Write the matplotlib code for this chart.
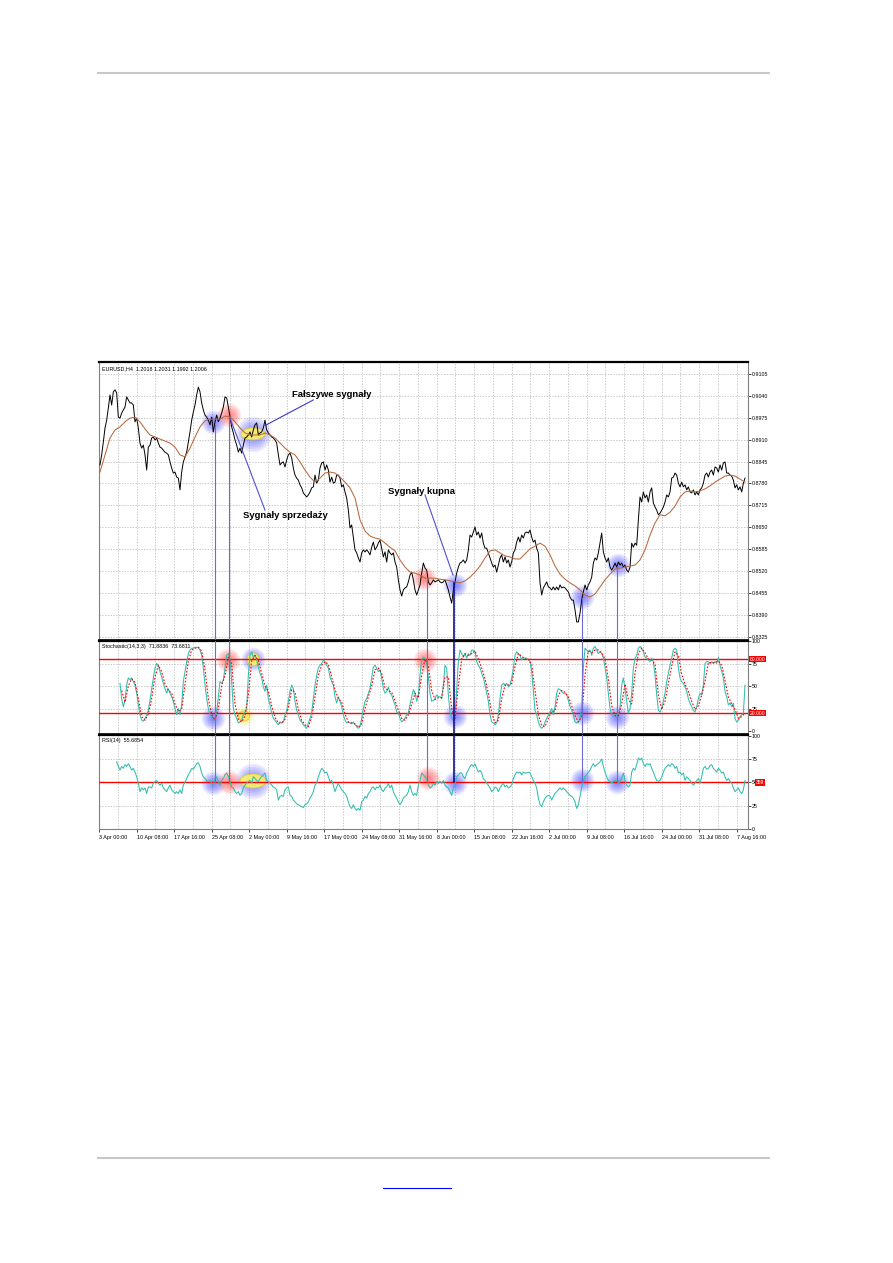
"""plot.py

EURUSD H4 chart with moving average, Stochastic(14,3,3) and RSI(14),
buy / sell / false signals marked on all three panels.
"""
import numpy as np
import matplotlib
matplotlib.use('Agg')
from matplotlib import pyplot as plt
from matplotlib.patches import Ellipse
from matplotlib.lines import Line2D

plt.rcParams['font.family'] = ['Liberation Sans', 'DejaVu Sans']


#
# Data (bar index of first sample, step between samples)
#

## Price (close)
price_start, price_step = 3, 1
price = [
    0.8835, 0.8865, 0.8903, 0.8945, 0.8968, 0.9004, 0.9043, 0.9013, 0.9052, 0.9058,
    0.9049, 0.8977, 0.8974, 0.8989, 0.8998, 0.9007, 0.9037, 0.9028, 0.9019, 0.9019,
    0.9013, 0.8963, 0.8974, 0.8945, 0.8900, 0.8885, 0.8894, 0.8865, 0.8820, 0.8888,
    0.8894, 0.8915, 0.8918, 0.8909, 0.8915, 0.8900, 0.8888, 0.8885, 0.8879, 0.8873,
    0.8870, 0.8865, 0.8844, 0.8826, 0.8811, 0.8814, 0.8799, 0.8796, 0.8761, 0.8814,
    0.8844, 0.8859, 0.8873, 0.8903, 0.8933, 0.8968, 0.8992, 0.9013, 0.9043, 0.9066,
    0.9052, 0.9019, 0.8998, 0.8983, 0.8977, 0.8968, 0.8954, 0.8977, 0.8933, 0.8963,
    0.8983, 0.8963, 0.8974, 0.8989, 0.9007, 0.9037, 0.9034, 0.9007, 0.8977, 0.8948,
    0.8930, 0.8909, 0.8894, 0.8873, 0.8885, 0.8870, 0.8894, 0.8915, 0.8918, 0.8924,
    0.8933, 0.8918, 0.8939, 0.8954, 0.8960, 0.8924, 0.8930, 0.8933, 0.8945, 0.8968,
    0.8939, 0.8930, 0.8924, 0.8918, 0.8915, 0.8909, 0.8900, 0.8865, 0.8835, 0.8841,
    0.8844, 0.8829, 0.8850, 0.8865, 0.8870, 0.8856, 0.8826, 0.8805, 0.8796, 0.8790,
    0.8776, 0.8767, 0.8752, 0.8746, 0.8740, 0.8746, 0.8755, 0.8767, 0.8770, 0.8805,
    0.8781, 0.8790, 0.8826, 0.8841, 0.8844, 0.8820, 0.8835, 0.8820, 0.8784, 0.8799,
    0.8781, 0.8784, 0.8805, 0.8805, 0.8796, 0.8770, 0.8776, 0.8755, 0.8737, 0.8701,
    0.8648, 0.8657, 0.8621, 0.8583, 0.8574, 0.8559, 0.8547, 0.8574, 0.8583, 0.8577,
    0.8583, 0.8577, 0.8568, 0.8591, 0.8606, 0.8583, 0.8591, 0.8603, 0.8612, 0.8588,
    0.8562, 0.8577, 0.8547, 0.8583, 0.8574, 0.8568, 0.8574, 0.8547, 0.8532, 0.8494,
    0.8464, 0.8446, 0.8464, 0.8470, 0.8473, 0.8488, 0.8508, 0.8517, 0.8494, 0.8464,
    0.8449, 0.8464, 0.8479, 0.8514, 0.8544, 0.8529, 0.8523, 0.8488, 0.8479, 0.8485,
    0.8494, 0.8488, 0.8491, 0.8494, 0.8488, 0.8485, 0.8488, 0.8494, 0.8479, 0.8464,
    0.8443, 0.8425, 0.8464, 0.8488, 0.8514, 0.8532, 0.8544, 0.8547, 0.8553, 0.8544,
    0.8553, 0.8583, 0.8627, 0.8621, 0.8636, 0.8651, 0.8627, 0.8636, 0.8618, 0.8633,
    0.8603, 0.8588, 0.8588, 0.8574, 0.8559, 0.8544, 0.8532, 0.8538, 0.8517, 0.8538,
    0.8559, 0.8568, 0.8547, 0.8562, 0.8544, 0.8553, 0.8532, 0.8547, 0.8574, 0.8583,
    0.8606, 0.8621, 0.8606, 0.8627, 0.8618, 0.8633, 0.8636, 0.8633, 0.8642, 0.8621,
    0.8606, 0.8612, 0.8588, 0.8574, 0.8485, 0.8449, 0.8470, 0.8479, 0.8488, 0.8473,
    0.8470, 0.8464, 0.8473, 0.8464, 0.8473, 0.8464, 0.8479, 0.8470, 0.8473, 0.8470,
    0.8464, 0.8458, 0.8443, 0.8434, 0.8434, 0.8405, 0.8369, 0.8369, 0.8396, 0.8434,
    0.8458, 0.8479, 0.8464, 0.8479, 0.8488, 0.8502, 0.8544, 0.8559, 0.8553, 0.8574,
    0.8603, 0.8633, 0.8577, 0.8559, 0.8547, 0.8559, 0.8532, 0.8523, 0.8532, 0.8544,
    0.8532, 0.8547, 0.8538, 0.8544, 0.8532, 0.8538, 0.8523, 0.8517, 0.8532, 0.8603,
    0.8591, 0.8603, 0.8597, 0.8672, 0.8740, 0.8725, 0.8755, 0.8737, 0.8746, 0.8725,
    0.8755, 0.8767, 0.8722, 0.8710, 0.8701, 0.8687, 0.8692, 0.8701, 0.8710, 0.8725,
    0.8746, 0.8740, 0.8755, 0.8796, 0.8799, 0.8811, 0.8805, 0.8781, 0.8770, 0.8784,
    0.8770, 0.8776, 0.8761, 0.8770, 0.8755, 0.8752, 0.8761, 0.8746, 0.8755, 0.8746,
    0.8761, 0.8767, 0.8781, 0.8805, 0.8811, 0.8799, 0.8814, 0.8820, 0.8805, 0.8829,
    0.8826, 0.8814, 0.8835, 0.8820, 0.8841, 0.8844, 0.8811, 0.8811, 0.8805, 0.8802,
    0.8790, 0.8767, 0.8776, 0.8761, 0.8770, 0.8755, 0.8781, 0.8796]

## Moving average
ma_start, ma_step = 3, 3
ma = [
    0.8814, 0.8865, 0.8915, 0.8939, 0.8948, 0.8963, 0.8974, 0.8977, 0.8963, 0.8942,
    0.8924, 0.8918, 0.8912, 0.8906, 0.8900, 0.8888, 0.8865, 0.8859, 0.8885, 0.8918,
    0.8948, 0.8966, 0.8971, 0.8971, 0.8971, 0.8980, 0.8977, 0.8963, 0.8945, 0.8930,
    0.8924, 0.8924, 0.8924, 0.8930, 0.8924, 0.8915, 0.8900, 0.8885, 0.8873, 0.8865,
    0.8844, 0.8820, 0.8799, 0.8784, 0.8796, 0.8811, 0.8814, 0.8811, 0.8799, 0.8784,
    0.8767, 0.8737, 0.8672, 0.8639, 0.8624, 0.8618, 0.8615, 0.8603, 0.8591, 0.8580,
    0.8553, 0.8532, 0.8517, 0.8514, 0.8508, 0.8499, 0.8499, 0.8499, 0.8496, 0.8494,
    0.8491, 0.8488, 0.8485, 0.8491, 0.8502, 0.8517, 0.8535, 0.8559, 0.8580, 0.8583,
    0.8574, 0.8565, 0.8562, 0.8556, 0.8556, 0.8571, 0.8586, 0.8594, 0.8603, 0.8594,
    0.8568, 0.8535, 0.8511, 0.8496, 0.8485, 0.8476, 0.8464, 0.8449, 0.8443, 0.8452,
    0.8473, 0.8494, 0.8511, 0.8526, 0.8529, 0.8532, 0.8535, 0.8538, 0.8553, 0.8583,
    0.8627, 0.8663, 0.8687, 0.8684, 0.8695, 0.8713, 0.8740, 0.8755, 0.8758, 0.8755,
    0.8758, 0.8764, 0.8773, 0.8784, 0.8793, 0.8802, 0.8805, 0.8802, 0.8793, 0.8784]

## Stochastic main line
stoch_start, stoch_step = 15, 1
stoch_main = [
    53, 36, 27, 34, 51, 59, 57, 59, 55, 51, 42, 29, 18, 12, 11, 14, 18, 23, 34, 47,
    59, 70, 75, 73, 66, 60, 53, 47, 42, 47, 42, 38, 33, 25, 18, 25, 18, 29, 55, 66,
    77, 86, 90, 92, 92, 93, 93, 93, 90, 84, 70, 51, 36, 25, 18, 14, 12, 12, 21, 38,
    55, 53, 57, 70, 84, 86, 81, 55, 25, 18, 14, 9, 10, 12, 18, 21, 25, 62, 84, 88,
    82, 84, 79, 71, 64, 59, 49, 44, 51, 36, 29, 20, 14, 12, 9, 7, 10, 9, 10, 18,
    23, 33, 44, 51, 47, 33, 23, 18, 12, 10, 7, 5, 3, 9, 14, 21, 36, 51, 62, 70,
    73, 75, 79, 77, 73, 70, 60, 55, 51, 38, 31, 38, 33, 27, 18, 12, 9, 10, 9, 8,
    10, 7, 5, 3, 5, 14, 25, 33, 36, 42, 47, 59, 71, 73, 70, 66, 68, 59, 47, 42,
    44, 49, 42, 40, 34, 29, 21, 20, 14, 10, 12, 14, 18, 20, 29, 38, 46, 42, 33, 40,
    62, 79, 82, 80,
    77, 59, 42, 33, 34, 36, 40, 38, 38, 36, 51, 73, 70, 40, 21, 14, 12, 16, 47, 77,
    90, 86, 82, 86, 81, 86, 84, 90, 90, 88, 77, 73, 70, 64, 59, 51, 42, 33, 18, 10,
    9, 7, 9, 18, 36, 51, 53, 51, 53, 49, 51, 59, 70, 84, 88, 86, 84, 79, 81, 81,
    81, 79, 77, 66, 44, 23, 18, 10, 5, 3, 5, 10, 14, 18, 21, 25, 18, 27, 42, 47,
    46, 44, 42, 42, 40, 34, 27, 23, 18, 10, 9, 10, 14, 25, 70, 92, 90, 88, 90, 84,
    92, 94, 90, 86, 88, 86, 81, 71, 59, 42, 25, 18, 16, 18, 18, 16, 27, 51, 59, 47,
    33, 20, 25, 42, 70, 81, 84, 92, 94, 92, 88, 82, 81, 79, 77, 81, 77, 62, 40, 23,
    21, 25, 33, 42, 55, 64, 73, 81, 90, 92, 90, 70, 59, 55, 53, 49, 44, 36, 31, 27,
    23, 21, 27, 36, 42, 40, 51, 75, 77, 77, 75, 77, 75, 77, 75, 82, 73, 66, 59, 44,
    38, 29, 31, 27, 31, 14, 10, 12, 16, 18, 20, 51]

## Stochastic signal line
signal_start, signal_step = 16, 2
stoch_signal = [
    45, 32, 50, 58, 54, 36, 16, 12, 19, 36, 60, 73, 66, 52, 45, 42, 30, 22, 24, 52,
    78, 90, 92, 93, 89, 68, 36, 18, 12, 25, 50, 62, 82, 75, 30, 13, 10, 17, 40, 78,
    84, 78, 64, 50, 44, 28, 15, 9, 9, 13, 26, 46, 43, 24, 12, 7, 5, 15, 38, 62,
    73, 77, 74, 60, 46, 36, 32, 19, 10, 9, 8, 4, 8, 25, 38, 50, 68, 70, 64, 48,
    45, 43, 34, 23, 14, 12, 18, 30, 42, 37, 62, 80,
    72, 45, 35, 37, 37, 60, 60, 25, 14, 50, 80, 86, 84, 86, 89, 80, 70, 58, 42, 20,
    9, 12, 36, 51, 51, 53, 72, 86, 83, 80, 80, 74, 45, 18, 6, 5, 14, 22, 22, 40,
    45, 43, 38, 28, 17, 10, 16, 62, 89, 87, 90, 90, 87, 80, 58, 28, 17, 17, 30, 52,
    35, 30, 64, 86, 92, 87, 80, 79, 74, 40, 24, 33, 53, 72, 88, 84, 63, 52, 44, 33,
    24, 28, 40, 55, 76, 76, 76, 78, 73, 56, 38, 30, 24, 14, 16, 20]

## RSI(14)
rsi_start, rsi_step = 13, 1
rsi = [
    72, 67, 63, 67, 65, 69, 67, 70, 67, 63, 65, 61, 56, 49, 40, 44, 42, 44, 38, 45,
    45, 44, 49, 51, 52, 49, 47, 49, 44, 42, 40, 44, 47, 42, 40, 38, 40, 38, 42, 38,
    47, 50, 54, 58, 61, 65, 64, 67, 70, 71, 67, 60, 56, 54, 52, 51, 52, 49, 47, 54,
    56, 51, 47, 52, 54, 58, 60, 56, 51, 45, 44, 40, 38, 40, 36, 38, 44, 47, 49, 51,
    52, 49, 56, 54, 52, 51, 54, 56, 58, 60, 52, 51, 49, 47, 45, 44, 42, 31, 35, 36,
    35, 42, 44, 45, 36, 35, 31, 29, 27, 26, 25, 24, 23, 26, 27, 29, 33, 36, 40, 47,
    49, 56, 61, 65, 63, 60, 61, 56, 51, 52, 47, 40, 45, 49, 45, 42, 40, 38, 35, 29,
    24, 22, 26, 22, 20, 22, 20, 29, 31, 35, 33, 38, 40, 44, 45, 42, 45, 44, 47, 42,
    40, 44, 45, 49, 44, 47, 40, 36, 33, 29, 26, 29, 33, 35, 36, 40, 47, 40, 36, 38,
    36, 47, 52, 60, 58, 56,
    54, 47, 44, 45, 49, 47, 51, 49, 51, 49, 52, 47, 45, 44, 40, 36, 44, 47, 56, 58,
    60, 60, 56, 54, 60, 63, 67, 69, 67, 70, 65, 61, 63, 60, 54, 52, 49, 47, 44, 40,
    42, 45, 44, 40, 44, 47, 49, 45, 47, 44, 45, 47, 54, 58, 61, 60, 61, 58, 61, 60,
    60, 61, 60, 56, 52, 49, 44, 33, 26, 24, 29, 33, 35, 36, 35, 31, 35, 38, 40, 42,
    44, 42, 44, 42, 40, 38, 36, 35, 33, 29, 22, 26, 35, 44, 52, 56, 58, 61, 63, 67,
    70, 67, 69, 70, 72, 75, 67, 61, 56, 52, 51, 49, 51, 52, 52, 49, 51, 54, 60, 52,
    47, 45, 47, 61, 65, 63, 69, 76, 74, 76, 70, 67, 70, 69, 70, 65, 61, 56, 52, 51,
    52, 56, 61, 65, 67, 69, 67, 70, 69, 65, 67, 60, 61, 58, 60, 52, 56, 54, 52, 49,
    47, 49, 52, 54, 49, 56, 65, 67, 64, 65, 68, 69, 65, 63, 61, 65, 63, 60, 61, 56,
    52, 54, 51, 49, 44, 40, 42, 44, 40, 38, 42, 52]

## Axis labels
date_labels = ['3 Apr 00:00', '10 Apr 08:00', '17 Apr 16:00', '25 Apr 08:00',
               '2 May 00:00', '9 May 16:00', '17 May 00:00', '24 May 08:00',
               '31 May 16:00', '8 Jun 00:00', '15 Jun 08:00', '22 Jun 16:00',
               '2 Jul 00:00', '9 Jul 08:00', '16 Jul 16:00', '24 Jul 00:00',
               '31 Jul 08:00', '7 Aug 16:00']
date_bars = 2.4 + 22.5*np.arange(len(date_labels))
price_ticks = [0.9105, 0.9040, 0.8975, 0.8910, 0.8845, 0.8780, 0.8715,
               0.8650, 0.8585, 0.8520, 0.8455, 0.8390, 0.8325]

## Signals: bar, price where the vertical marker starts
signal_bars = [72, 80.4, 199, 215.6, 292.4, 313.4]
signal_price = [0.8954, 0.8974, 0.8499, 0.8485, 0.8440, 0.8532]

## Highlighted spots (bar, value, kind)
main_spots = [(70.8, 0.8963, 'b'), (80.4, 0.8983, 'r'), (94.8, 0.8927, 'B'),
              (197.4, 0.8500, 'r'), (216, 0.8479, 'b'), (292.2, 0.8443, 'b'),
              (313.8, 0.8538, 'b')]
stoch_spots = [(70.8, 14.4, 'b'), (79.8, 78.9, 'r'), (94.8, 79.5, 'b'),
               (89.4, 16.7, 'y'), (198, 78.9, 'r'), (216, 16.7, 'b'),
               (292.2, 20, 'b'), (313.2, 15.6, 'b')]
rsi_spots = [(70.8, 49, 'b'), (80.4, 50, 'r'), (94.8, 51.4, 'B'),
             (199.8, 54.6, 'r'), (216, 49, 'b'), (292.2, 52.5, 'b'),
             (313.2, 50.3, 'b')]



colours = {'price': '#000000',
           'ma': '#b8683c',
           'stoch': '#2fbfae',
           'signal': '#ff0000',
           'rsi': '#2fbfae',
           'grid': '#b4b4b4',
           'axis': '#808080'}

W, H = 893., 1263.
XLIM = (2.4, 391.6)


def xs(start, step, vals):
    return start + step*np.arange(len(vals))


def panel(top, bottom):
    ax = fig.add_axes([99/W, 1 - bottom/H, (747.7 - 99)/W, (bottom - top)/H])
    ax.set_xlim(*XLIM)
    for s in ['left', 'right', 'bottom']:
        ax.spines[s].set_color(colours['axis'])
        ax.spines[s].set_linewidth(0.8)
    ax.spines['top'].set_color('black')
    ax.spines['top'].set_linewidth(1.6)
    ax.yaxis.tick_right()
    ax.tick_params(axis='y', labelsize=3.8, length=2, width=0.5, pad=1,
                   colors='black')
    ax.tick_params(axis='x', length=0)
    ax.set_xticklabels([])
    for m in range(1, 35):
        ax.axvline(2.4 + 11.25*m, color=colours['grid'], lw=0.5,
                   ls=(0, (2, 2)), zorder=0)
    return ax


def glow(ax, x, y, colour, radius):
    for r in np.linspace(radius, radius*0.15, 10):
        ax.scatter([x], [y], s=(2*r*0.72)**2, color=colour, alpha=0.075,
                   lw=0, zorder=2)


def oval(ax, x, y, w_px, h_px):
    bb = ax.get_window_extent()
    x0, x1 = ax.get_xlim()
    y0, y1 = ax.get_ylim()
    e = Ellipse((x, y), w_px*(x1 - x0)/bb.width, h_px*(y1 - y0)/bb.height,
                fc='#f6ef70', ec='#d9cb36', lw=0.6, alpha=0.95, zorder=2.5)
    ax.add_artist(e)


def spots(ax, marks):
    for x, y, kind in marks:
        if kind == 'r':
            glow(ax, x, y, '#ff2a2a', 12)
        elif kind == 'b':
            glow(ax, x, y, '#2a2aff', 12)
        elif kind == 'B':
            glow(ax, x, y, '#2a2aff', 18)
        else:
            glow(ax, x, y, '#f0e020', 10)


def level_box(ax, y, text, x=1.003):
    ax.text(x, y, text, transform=ax.get_yaxis_transform(), fontsize=3.6,
            color='white', va='center', ha='left', zorder=10,
            bbox=dict(boxstyle='square,pad=0.15', fc='#ff0000', ec='none'))



#
# Plot
#
fig = plt.figure(figsize=(W/100, H/100), dpi=100)

## Page rules
fig.add_artist(Line2D([98/W, 769/W], [1 - 73/H]*2, color='#c8c8c8', lw=1.5))
fig.add_artist(Line2D([98/W, 769/W], [1 - 1158/H]*2, color='#c8c8c8', lw=1.5))
fig.add_artist(Line2D([383/W, 451/W], [1 - 1188/H]*2, color='#0000ff', lw=0.8))

## Price panel
ax = panel(362, 640)
ax.set_ylim(0.83155, 0.91406)
ax.spines['bottom'].set_color('black')
ax.spines['bottom'].set_linewidth(1.2)
ax.set_yticks(price_ticks)
ax.set_yticklabels(['%.4f' % p for p in price_ticks])
for p in price_ticks:
    ax.axhline(p, color=colours['grid'], lw=0.5, ls=(0, (2, 2)), zorder=0)
ax.plot(xs(price_start, price_step, price), price, '-', color=colours['price'],
        lw=0.7, zorder=3)
ax.plot(xs(ma_start, ma_step, ma), ma, '-', color=colours['ma'], lw=0.75,
        zorder=4)
ax.text(0.004, 0.985, 'EURUSD,H4  1.2018 1.2031 1.1992 1.2006', fontsize=3.9,
        transform=ax.transAxes, va='top', ha='left')
oval(ax, 94.8, 0.8927, 24, 12)
spots(ax, main_spots)
for b, p in zip(signal_bars, signal_price):
    c, lw = ('#10108c', 1.2) if b == 215.6 else ('#6c6cd0', 0.8)
    ax.plot([b, b], [0.83155, p], color=c, lw=lw, zorder=5)

## Annotations
ax.text(118.2, 0.9043, 'Fałszywe sygnały', fontsize=6.8, fontweight='bold',
        va='center', ha='left', zorder=8)
ax.plot([131, 102], [0.9028, 0.8952], color='#3a3ac8', lw=0.8, zorder=7)
ax.text(88.8, 0.8684, 'Sygnały sprzedaży', fontsize=6.8, fontweight='bold',
        va='center', ha='left', zorder=8)
ax.plot([81, 102], [0.8974, 0.8701], color='#5050d8', lw=0.8, zorder=7)
ax.text(175.8, 0.8756, 'Sygnały kupna', fontsize=6.8, fontweight='bold',
        va='center', ha='left', zorder=8)
ax.plot([198, 214.8], [0.8746, 0.8508], color='#5050d0', lw=0.8, zorder=7)

## Stochastic panel
ax = panel(641, 734)
ax.set_ylim(-3.3, 100)
ax.spines['bottom'].set_color('black')
ax.spines['bottom'].set_linewidth(1.2)
ax.set_yticks([0, 25, 50, 75, 100])
ax.set_yticklabels(['0', '25', '50', '75', '100'])
for v in [25, 50, 75]:
    ax.axhline(v, color=colours['grid'], lw=0.5, ls=(0, (2, 2)), zorder=0)
for v in [20, 80]:
    ax.axhline(v, color='#ff0000', lw=1.0, zorder=2.7)
ax.plot(xs(stoch_start, stoch_step, stoch_main), stoch_main, '-',
        color=colours['stoch'], lw=0.75, zorder=3)
ax.plot(xs(signal_start, signal_step, stoch_signal), stoch_signal,
        color=colours['signal'], lw=0.8, ls=(0, (1.5, 1.5)), zorder=4)
ax.text(0.004, 0.97, 'Stochastic(14,3,3)  71.8836  73.6811', fontsize=3.9,
        transform=ax.transAxes, va='top', ha='left')
oval(ax, 94.8, 79.5, 12, 13)
oval(ax, 89.4, 16.7, 11, 10)
spots(ax, stoch_spots)
for b in signal_bars:
    c, lw = ('#10108c', 1.2) if b == 215.6 else ('#6c6cd0', 0.8)
    ax.axvline(b, color=c, lw=lw, zorder=5)
level_box(ax, 80, '80.000')
level_box(ax, 20, '20.000')

## RSI panel
ax = panel(735, 829)
ax.set_ylim(0, 100.7)
ax.set_yticks([0, 25, 50, 75, 100])
ax.set_yticklabels(['0', '25', '50', '75', '100'])
for v in [25, 75]:
    ax.axhline(v, color=colours['grid'], lw=0.5, ls=(0, (2, 2)), zorder=0)
ax.axhline(50, color='#ff0000', lw=1.0, zorder=2.7)
ax.plot(xs(rsi_start, rsi_step, rsi), rsi, '-', color=colours['rsi'], lw=0.75,
        zorder=3)
ax.text(0.004, 0.97, 'RSI(14)  55.6854', fontsize=3.9,
        transform=ax.transAxes, va='top', ha='left')
oval(ax, 94.8, 51.4, 26, 14)
spots(ax, rsi_spots)
for b in signal_bars:
    c, lw = ('#10108c', 1.2) if b == 215.6 else ('#6c6cd0', 0.8)
    ax.plot([b, b], [50, 100.7], color=c, lw=lw, zorder=5)
level_box(ax, 50, '359', x=1.012)
ax.set_xticks(date_bars)
ax.set_xticklabels(date_labels, fontsize=3.9, ha='left')
ax.tick_params(axis='x', length=2.5, width=0.5, pad=2, colors='black')

plt.savefig('out.png', dpi=100)
